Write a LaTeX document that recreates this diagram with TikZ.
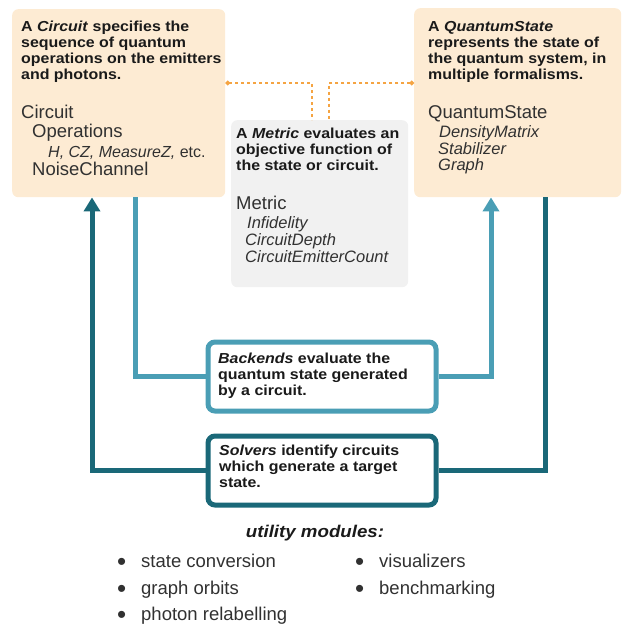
\documentclass[tikz,border=0pt]{standalone}
\usepackage{fontspec}
\setmainfont{Liberation Sans}
\newfontfamily\hb[FakeStretch=1.1]{Liberation Sans}
\usetikzlibrary{arrows.meta}
\definecolor{peach}{HTML}{FDEBD3}
\definecolor{metgray}{HTML}{F1F1F1}
\definecolor{dotorange}{HTML}{F5A442}
\definecolor{lightblue}{HTML}{4A9EB5}
\definecolor{darkteal}{HTML}{1A6878}
\definecolor{ink}{HTML}{1A1A1A}
\newcommand{\bul}{\makebox[24pt][l]{\raisebox{-3pt}{\fontsize{26}{20}\selectfont •}}}
\begin{document}
\begin{tikzpicture}[x=1pt,y=-1pt,
  pbox/.style={fill=peach, rounded corners=6pt, draw=none, anchor=north west, inner sep=0pt},
  gbox/.style={fill=metgray, rounded corners=6pt, draw=none, anchor=north west, inner sep=0pt},
  lbox/.style={draw=lightblue, line width=5pt, rounded corners=7pt, fill=white, anchor=north west, inner sep=0pt},
  dbox/.style={draw=darkteal, line width=5pt, rounded corners=7pt, fill=white, anchor=north west, inner sep=0pt},
  hdr/.style={anchor=base west, inner sep=0pt, align=left, text=ink, font=\hb\fontsize{14.5}{16}\selectfont\bfseries},
  big/.style={anchor=base west, inner sep=0pt, text=ink!90, font=\fontsize{18.5}{20}\selectfont},
  ital/.style={anchor=base west, inner sep=0pt, text=ink!90, font=\fontsize{16.5}{17}\selectfont\itshape},
  lst/.style={anchor=base west, inner sep=0pt, text=ink!90, font=\fontsize{18.5}{20}\selectfont},
  dotline/.style={dotorange, line width=1.8pt, dash pattern=on 3pt off 3pt},
  lline/.style={lightblue, line width=5pt},
  dline/.style={darkteal, line width=5pt},
  tip/.style={-{Triangle[width=16pt,length=14pt]}}
]
\useasboundingbox (0,0) rectangle (622,625);

% boxes
\node[pbox, minimum width=213pt, minimum height=188pt] (circ) at (12,9) {};
\node[pbox, minimum width=207pt, minimum height=189pt] (qs) at (414,8) {};
\node[gbox, minimum width=177pt, minimum height=167pt] (met) at (231,120) {};
\node[lbox, minimum width=228pt, minimum height=69pt] (back) at (205.5,339.5) {};
\node[dbox, minimum width=228pt, minimum height=69pt] (sol) at (205.5,433.5) {};

% dotted connectors
\draw[dotline, {Circle[length=4.5pt,fill=dotorange]}-] ([yshift=-74pt]circ.north east) -| ([xshift=81pt]met.north west);
\draw[dotline, {Circle[length=4.5pt,fill=dotorange]}-] ([yshift=-75pt]qs.north west) -| ([xshift=98pt]met.north west);

% backend connectors
\draw[lline] ([xshift=123pt]circ.south west) |- (back.west);
\draw[lline, tip] (back.east) -| ([xshift=77pt]qs.south west);
% solver connectors
\draw[dline, tip] (sol.west) -| ([xshift=80pt]circ.south west);
\draw[dline] ([xshift=131pt]qs.south west) |- (sol.east);

% circuit text (anchor = baseline of last line)
\node[hdr] (ch) at (21,79) {A \textit{Circuit} specifies the\\sequence of quantum\\operations on the emitters\\and photons.};
\node[big] (c1) at (21,118) {Circuit};
\node[big] (c2) at (32,137) {Operations};
\node[anchor=base west, inner sep=0pt, text=ink!90, font=\fontsize{16}{17}\selectfont] (c3) at (48,157) {\textit{H, CZ, MeasureZ,} etc.};
\node[big] (c4) at (32,175) {NoiseChannel};

% quantum state text
\node[hdr] (qh) at (428,79) {A \textit{QuantumState}\\represents the state of\\the quantum system, in\\multiple formalisms.};
\node[big] (q1) at (428,118) {QuantumState};
\node[ital] (q2) at (439,137) {DensityMatrix};
\node[ital] (q3) at (438,154) {Stabilizer};
\node[ital] (q4) at (438,170) {Graph};

% metric text
\node[hdr] (mh) at (236,170) {A \textit{Metric} evaluates an\\objective function of\\the state or circuit.};
\node[big] (m1) at (236,209) {Metric};
\node[ital] (m2) at (247,228) {Infidelity};
\node[ital] (m3) at (245,245) {CircuitDepth};
\node[ital] (m4) at (245,262) {CircuitEmitterCount};

% backends / solvers text
\node[hdr] (bt) at (218,395) {\textit{Backends} evaluate the\\quantum state generated\\by a circuit.};
\node[hdr] (st) at (219,487) {\textit{Solvers} identify circuits\\which generate a target\\state.};

% utility modules
\node[anchor=base, inner sep=0pt, text=ink, font=\hb\fontsize{17}{19}\selectfont\bfseries\itshape] (um) at (315,537) {utility modules:};
\node[lst] (u1) at (117,567) {\bul state conversion};
\node[lst] (u2) at (117,594) {\bul graph orbits};
\node[lst] (u3) at (117,620) {\bul photon relabelling};
\node[lst] (u4) at (355,567) {\bul visualizers};
\node[lst] (u5) at (355,594) {\bul benchmarking};
\end{tikzpicture}
\end{document}
